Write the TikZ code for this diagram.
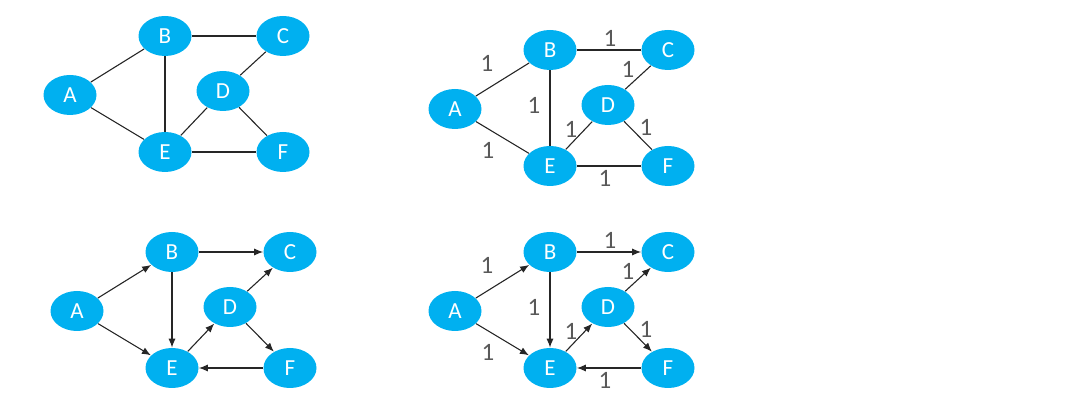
\documentclass[tikz,border=0pt]{standalone}
\usepackage{fontspec}
\setmainfont{Carlito}
\usetikzlibrary{arrows.meta, shapes.geometric}
\definecolor{NodeBlue}{HTML}{00B0F0}
\definecolor{EdgeGray}{HTML}{262626}
\definecolor{WeightGray}{HTML}{595959}

\tikzset{
  vertex/.style={ellipse, fill=NodeBlue, text=white, minimum width=26.5pt, minimum height=20pt, inner sep=0pt, font=\fontsize{11.5}{12}\selectfont},
  link/.style={draw=EdgeGray, line width=0.55pt},
  arc/.style={link, -{Latex[length=4.5pt, width=3.6pt]}},
  weight/.style={text=WeightGray, font=\fontsize{12.5}{13}\selectfont, inner sep=0pt},
}

% the six vertices, same layout in every graph
\newcommand{\placevertices}{%
  \foreach \v/\px/\py in {A/70/95, B/165/36, C/283/36, D/223/91, E/165/152, F/283/152}
    \node[vertex] (\v) at (\px,\py) {\v};
}
% edge weights
\newcommand{\placeweights}{%
  \foreach \w/\px/\py in {AB/102/49, BC/225/24, CD/243/55, BE/149/91, DE/186/115, DF/261/113, AE/103/136, EF/220/164}
    \node[weight] (w\w) at (\px,\py) {1};
}

\begin{document}
\begin{tikzpicture}[x=0.5pt, y=-0.5pt]
  \useasboundingbox (0,0) rectangle (1070,405);

  % undirected
  \begin{scope}[name prefix=g1-]
    \placevertices
    \foreach \s/\t in {A/B, A/E, B/C, B/E, C/D, D/E, D/F, E/F}
      \draw[link] (\s) -- (\t);
  \end{scope}

  % undirected, weighted
  \begin{scope}[shift={(385,14)}, name prefix=g2-]
    \placevertices
    \foreach \s/\t in {A/B, A/E, B/C, B/E, C/D, D/E, D/F, E/F}
      \draw[link] (\s) -- (\t);
    \placeweights
  \end{scope}

  % directed
  \begin{scope}[shift={(7,216)}, name prefix=g3-]
    \placevertices
    \foreach \s/\t in {A/B, A/E, B/C, B/E, D/C, E/D, D/F, F/E}
      \draw[arc] (\s) -- (\t);
  \end{scope}

  % directed, weighted
  \begin{scope}[shift={(385,216)}, name prefix=g4-]
    \placevertices
    \foreach \s/\t in {A/B, A/E, B/C, B/E, D/C, E/D, D/F, F/E}
      \draw[arc] (\s) -- (\t);
    \placeweights
  \end{scope}
\end{tikzpicture}
\end{document}
